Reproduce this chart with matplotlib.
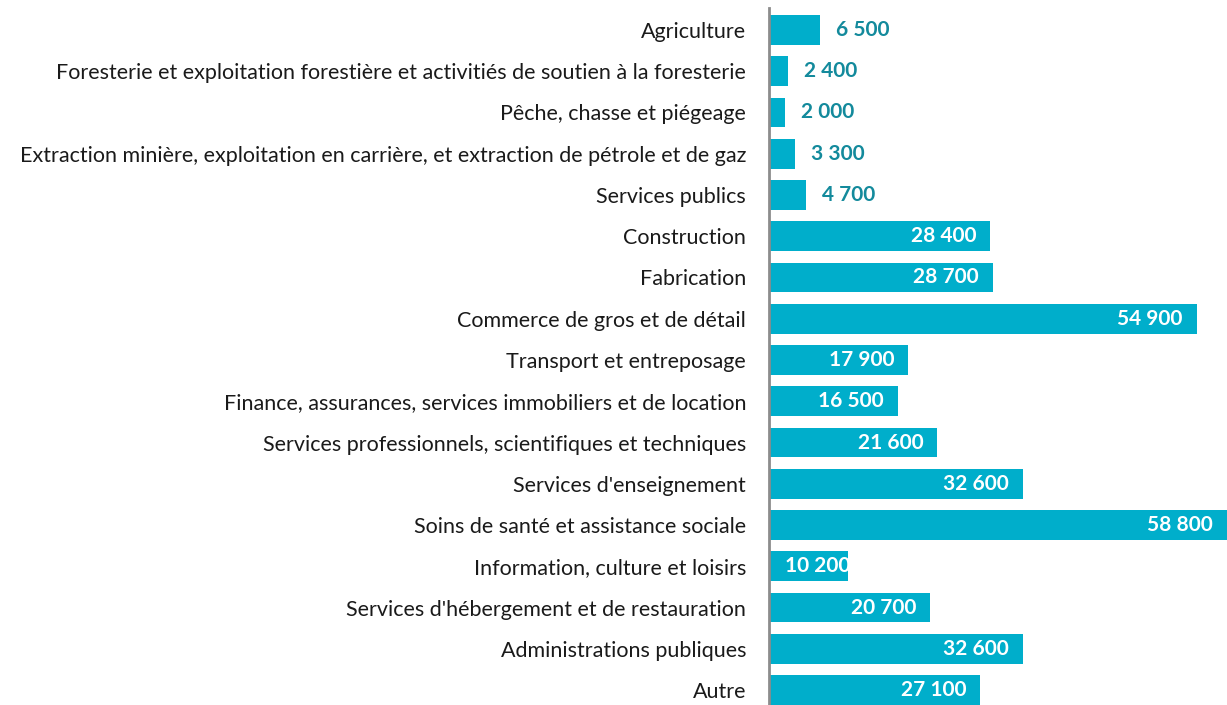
import matplotlib.pyplot as plt

categories = [
    "Agriculture",
    "Foresterie et exploitation forestière et activitiés de soutien à la foresterie",
    "Pêche, chasse et piégeage",
    "Extraction minière, exploitation en carrière, et extraction de pétrole et de gaz",
    "Services publics",
    "Construction",
    "Fabrication",
    "Commerce de gros et de détail",
    "Transport et entreposage",
    "Finance, assurances, services immobiliers et de location",
    "Services professionnels, scientifiques et techniques",
    "Services d'enseignement",
    "Soins de santé et assistance sociale",
    "Information, culture et loisirs",
    "Services d'hébergement et de restauration",
    "Administrations publiques",
    "Autre",
]
values = [6500, 2400, 2000, 3300, 4700, 28400, 28700, 54900, 17900, 16500,
          21600, 32600, 58800, 10200, 20700, 32600, 27100]

bar_color = "#00AECB"
label_teal = "#138A9C"

plt.rcParams['font.family'] = ['Lato', 'DejaVu Sans']

fig = plt.figure(figsize=(12.27, 7.05), dpi=100)
ax = fig.add_axes([769 / 1227, 0, 1 - 769 / 1227, 697 / 705])

y = list(range(len(categories)))
ax.barh(y, values, height=0.72, color=bar_color)
ax.set_xlim(0, 58800)
ax.set_ylim(16.36, -0.53)

ax.set_yticks(y)
ax.set_yticklabels(categories, fontsize=15.5, color="#1a1a1a")
ax.tick_params(axis='y', length=0, pad=16.5)
ax.set_xticks([])

for s in ["top", "right", "bottom"]:
    ax.spines[s].set_visible(False)
ax.spines["left"].set_color("#8C8C8C")
ax.spines["left"].set_linewidth(2)

# pixel -> data scale
px = 58800 / 458.0
renderer = fig.canvas.get_renderer()
for i, v in enumerate(values):
    txt = f"{v:,}".replace(",", " ")
    if v < 8000:
        ax.text(v + 16 * px, i, txt, ha="left", va="center", fontsize=15,
                fontweight="bold", color=label_teal)
    else:
        t = ax.text(v - 14 * px, i, txt, ha="right", va="center", fontsize=15,
                    fontweight="bold", color="white")
        w = t.get_window_extent(renderer).width * px
        if v - 14 * px - w < 16 * px:
            t.set_x(16 * px)
            t.set_ha("left")

fig.savefig("out.png", dpi=100)
